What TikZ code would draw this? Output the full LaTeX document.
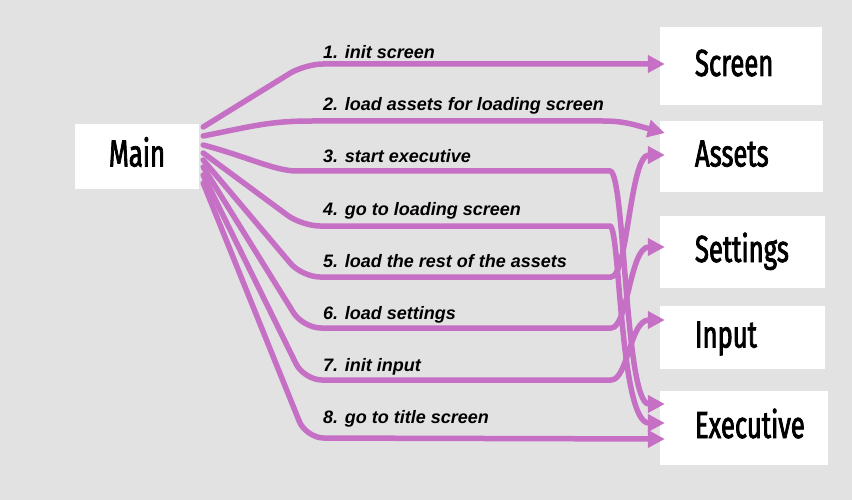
\documentclass[tikz,border=0pt]{standalone}
\usepackage{fontspec}
\usetikzlibrary{arrows.meta,calc}
\newfontfamily\boxfont[FakeStretch=0.68,FakeBold=2]{Fira Sans}
\newfontfamily\stepfont{Liberation Sans}
\definecolor{bggray}{RGB}{226,226,226}
\definecolor{flowpink}{RGB}{197,112,196}
\tikzset{
    box/.style={fill=white, inner xsep=35pt, inner ysep=0pt, align=left,
        text height=26pt, text depth=6pt, font=\boxfont\fontsize{37.7}{40}\selectfont},
    steplabel/.style={anchor=base west, inner sep=0pt, text=black,
        font=\stepfont\bfseries\itshape\fontsize{18}{20}\selectfont},
    flow/.style={draw=flowpink, line width=5.5pt, line cap=round, rounded corners=18pt,
        -{Triangle[length=17pt,width=17pt]}}
}
\begin{document}
\begin{tikzpicture}[x=1pt,y=-1pt]
        \fill[bggray] (0,0) rectangle (852,500);
        \useasboundingbox (0,0) rectangle (852,500);
        % boxes
        \node[box, text width=58pt, align=center, inner xsep=33pt, minimum height=65pt] (main) at (137,156.5) {Main};
        \node[box, text width=92pt, minimum height=78pt] (screen) at (741,66) {Screen};
        \node[box, text width=93pt, minimum height=71pt] (assets) at (741.5,156.5) {Assets};
        \node[box, text width=95pt, minimum height=72pt] (settings) at (742.5,252) {Settings};
        \node[box, text width=95pt, minimum height=63pt] (input) at (742.5,337.5) {Input};
        \node[box, text width=98pt, minimum height=74pt] (executive) at (744,428) {Executive};
        % step labels
        \foreach \i/\txt in {1/init screen, 2/load assets for loading screen, 3/start executive,
            4/go to loading screen, 5/load the rest of the assets, 6/load settings,
            7/init input, 8/go to title screen} {
            \node[steplabel] (step\i) at (323, 7+52*\i) {\i. \txt};
        }
        % flows
        \draw[flow] ($(main.east)+(4,-29.5)$) -- (305,64) -- ($(screen.west)+(5,-2)$);
        \draw[flow] ($(main.east)+(4,-20.5)$) .. controls +(50,-10) and +(-60,0) .. (330,121)
            -- (585,121) .. controls +(40,0) and +(-30,-8) .. ($(assets.west)+(5,-23.5)$);
        \draw[flow] ($(main.east)+(4,-11.5)$) .. controls +(45,12) and +(-40,0) .. (315,171)
            -- (592,171) .. controls +(33,0) and +(-40,0) .. ($(executive.west)+(5,-24)$);
        \draw[flow] ($(main.east)+(4,-3.5)$) -- (302,226) -- (592,226)
            .. controls +(28,0) and +(-45,0) .. ($(executive.west)+(5,-5)$);
        \draw[flow] ($(main.east)+(4,3.5)$) -- (302,277) -- (593,277)
            .. controls +(35,0) and +(-35,0) .. ($(assets.west)+(5,-1.5)$);
        \draw[flow] ($(main.east)+(4,10.5)$) -- (303,328) -- (593,328)
            .. controls +(35,0) and +(-35,0) .. ($(settings.west)+(5,-5)$);
        \draw[flow] ($(main.east)+(4,18.5)$) -- (304,380) -- (593,380)
            .. controls +(35,0) and +(-35,0) .. ($(input.west)+(5,-17.5)$);
        \draw[flow] ($(main.east)+(4,26.5)$) -- (306,438) -- ($(executive.west)+(5,11)$);
    \end{tikzpicture}
\end{document}
